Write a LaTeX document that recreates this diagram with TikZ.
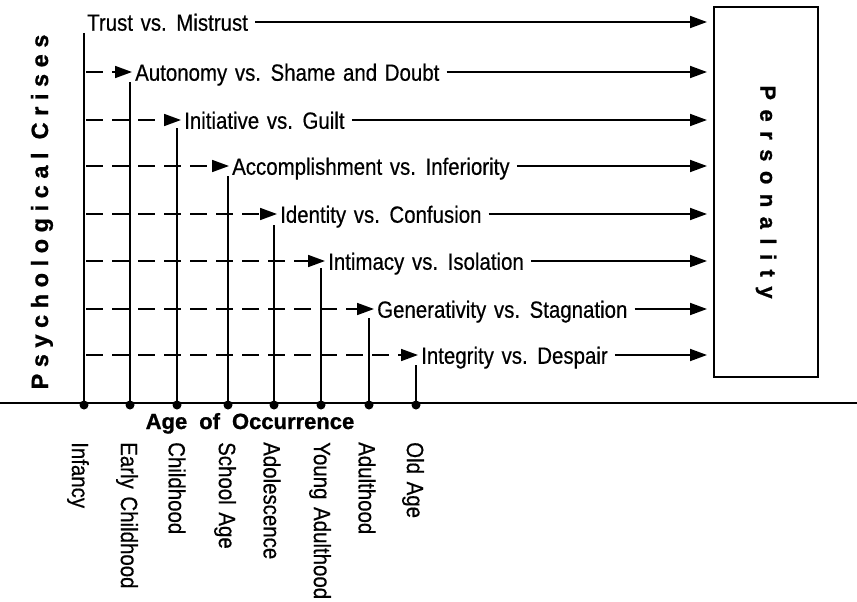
\documentclass[tikz,border=0pt]{standalone}
\usepackage{fontspec}
\setmainfont{Liberation Sans}
\newfontfamily\condfont[FakeStretch=0.87,WordSpace=1.35,FakeBold=0.5]{Liberation Sans}
\newfontfamily\heavyfont[FakeBold=1]{Liberation Sans Bold}
\usetikzlibrary{arrows.meta}
\begin{document}
\begin{tikzpicture}[x=1pt,y=-1pt,
  crisis/.style={anchor=west,inner sep=0pt,text height=17.5pt,text depth=0pt,
    font=\condfont\fontsize{23.5}{23.5}\selectfont},
  stage/.style={anchor=west,rotate=-90,inner sep=0pt,
    font=\condfont\fontsize{23.5}{23.5}\selectfont},
  axisdot/.style={circle,fill=black,inner sep=0pt,minimum size=9pt},
  lifeline/.style={line width=2.2pt},
  dasharrow/.style={line width=1.7pt,dash pattern=on 17pt off 9pt,
    -{Triangle[length=17pt,width=12pt]},shorten >=3pt},
  solidarrow/.style={line width=1.8pt,-{Triangle[length=17pt,width=12pt]},
    shorten <=7pt,shorten >=6pt},
  spaced/.style={font=\heavyfont\fontsize{#1}{#1}\selectfont},
]
\useasboundingbox (0,0) rectangle (857,602);

% time axis with one dot per life stage
\draw[line width=2.5pt] (0,403) -- (857,403);
\foreach \i/\x in {1/84,2/130,3/177,4/228,5/274,6/321,7/369,8/416}
  \node[axisdot] (d\i) at (\x,405) {};

% axis titles
\node[spaced=23.5,rotate=90] (psy) at (42,212)
  {\addfontfeature{LetterSpace=28}Psychological Crises};
\node[spaced=22,inner sep=0pt,text height=16pt,text depth=0pt] (age) at (250,421)
  {Age\hspace{12pt}of\hspace{12pt}Occurrence};

% life stages
\node[stage] (s1) at (78,442) {Infancy};
\node[stage] (s2) at (127,442) {Early Childhood};
\node[stage] (s3) at (177,442) {Childhood};
\node[stage] (s4) at (225,442) {School Age};
\node[stage] (s5) at (272,442) {Adolescence};
\node[stage] (s6) at (320,442) {Young Adulthood};
\node[stage] (s7) at (367,442) {Adulthood};
\node[stage] (s8) at (413,442) {Old Age};

% crises
\node[crisis] (c1) at (87,22)  {Trust vs. Mistrust};
\node[crisis] (c2) at (135,72) {Autonomy vs. Shame and Doubt};
\node[crisis] (c3) at (184,120) {Initiative vs. Guilt};
\node[crisis] (c4) at (232,166) {Accomplishment vs. Inferiority};
\node[crisis] (c5) at (280,214) {Identity vs. Confusion};
\node[crisis] (c6) at (328,261) {Intimacy vs. Isolation};
\node[crisis] (c7) at (377,309) {Generativity vs. Stagnation};
\node[crisis] (c8) at (421,355) {Integrity vs. Despair};

% personality box
\node[draw,line width=2pt,minimum width=104pt,minimum height=370pt,inner sep=0pt]
  (P) at (766,192) {};
\node[spaced=22,rotate=-90] (ptext) at (P.center)
  {\addfontfeature{LetterSpace=43}Personality};

% stage lines rising from the axis
\coordinate (t1) at (84,33);
\coordinate (t2) at (130,82);
\coordinate (t3) at (177,128);
\coordinate (t4) at (228,176);
\coordinate (t5) at (274,225);
\coordinate (t6) at (321,268);
\coordinate (t7) at (369,318);
\coordinate (t8) at (416,365);
\foreach \i in {1,...,8}
  \draw[lifeline] (t\i) -- (d\i.center);

% dashed carry-over arrows from infancy
\foreach \i in {2,...,8}
  \draw[dasharrow] (c\i.west -| t1) ++(2,0) -- (c\i.west);

% arrows into personality
\foreach \i in {1,...,8}
  \draw[solidarrow] (c\i.east) -- (c\i.east -| P.west);
\end{tikzpicture}
\end{document}
